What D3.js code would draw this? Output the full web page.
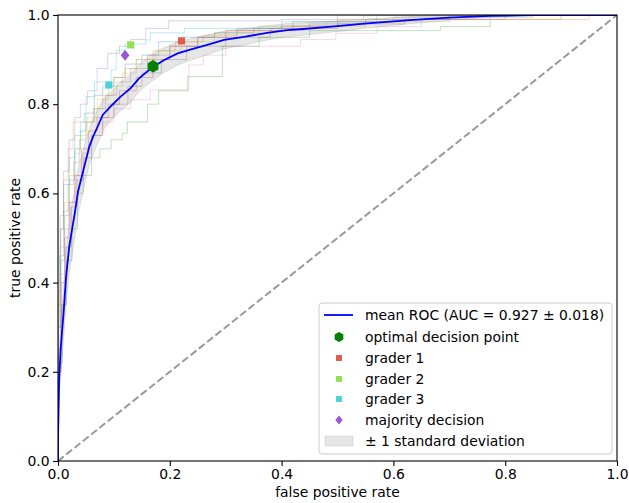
<!DOCTYPE html>
<html lang="en">
<head>
    <meta charset="utf-8">
    <title>ROC</title>
    <style>
        body { margin: 0; background: #fff; }
        text { font-family: "DejaVu Sans", sans-serif; font-size: 13.9px; fill: #000; }
    </style>
</head>
<body>
<svg id="chart"></svg>
<script src="https://d3js.org/d3.v7.min.js"></script>
<script>
    const chartWidth = 629;
    const chartHeight = 503;
    const margin = {top: 15, right: 12, bottom: 42, left: 58};
    const width = chartWidth - margin.left - margin.right;
    const height = chartHeight - margin.top - margin.bottom;

    // mean ROC
    const meanFpr = [0, 0, 0.002, 0.005, 0.010, 0.014, 0.020, 0.025, 0.030, 0.036, 0.041, 0.047, 0.056, 0.063, 0.071, 0.080, 0.095, 0.112, 0.130, 0.145, 0.166, 0.190, 0.214, 0.238, 0.267, 0.297, 0.333, 0.374, 0.410, 0.434, 0.50, 0.553, 0.636, 0.70, 0.773, 0.85, 1.0];
    const meanTpr = [0, 0.05, 0.18, 0.256, 0.332, 0.406, 0.48, 0.518, 0.556, 0.605, 0.63, 0.66, 0.705, 0.728, 0.75, 0.776, 0.796, 0.817, 0.836, 0.858, 0.880, 0.899, 0.914, 0.923, 0.933, 0.944, 0.951, 0.960, 0.966, 0.968, 0.975, 0.981, 0.989, 0.994, 0.998, 1.0, 1.0];
    const stdTpr = [0, 0.02, 0.05, 0.06, 0.06, 0.06, 0.06, 0.06, 0.055, 0.05, 0.05, 0.045, 0.04, 0.04, 0.038, 0.035, 0.032, 0.032, 0.032, 0.03, 0.03, 0.028, 0.026, 0.024, 0.022, 0.02, 0.018, 0.016, 0.015, 0.014, 0.012, 0.01, 0.008, 0.006, 0.003, 0, 0];

    // per-fold ROC curves (step corners)
    const foldColors = ["#1f77b4", "#ff7f0e", "#2ca02c", "#d62728", "#9467bd", "#8c564b", "#e377c2", "#7f7f7f", "#bcbd22", "#17becf"];
    const foldFpr = [
        [0, 0.005, 0.012, 0.02, 0.03, 0.04, 0.05, 0.065, 0.08, 0.10, 0.12, 0.15, 0.18, 0.22, 0.28, 0.35, 0.45, 0.55, 0.7, 1.0],
        [0, 0.004, 0.01, 0.018, 0.027, 0.063, 0.08, 0.10, 0.12, 0.14, 0.17, 0.21, 0.26, 0.32, 0.42, 0.55, 0.95, 1.0],
        [0, 0.008, 0.015, 0.025, 0.035, 0.045, 0.06, 0.075, 0.095, 0.115, 0.124, 0.16, 0.18, 0.232, 0.294, 0.36, 0.45, 0.684, 0.773, 1.0],
        [0, 0.006, 0.012, 0.02, 0.03, 0.042, 0.055, 0.07, 0.09, 0.11, 0.14, 0.17, 0.2, 0.25, 0.3, 0.4, 0.5, 0.547, 1.0],
        [0, 0.004, 0.01, 0.02, 0.03, 0.04, 0.053, 0.07, 0.089, 0.11, 0.13, 0.157, 0.198, 0.40, 0.50, 1.0],
        [0, 0.006, 0.014, 0.024, 0.034, 0.046, 0.06, 0.08, 0.1, 0.125, 0.15, 0.185, 0.23, 0.3, 0.38, 0.5, 0.62, 0.8, 1.0],
        [0, 0.005, 0.012, 0.022, 0.032, 0.045, 0.06, 0.08, 0.1, 0.13, 0.165, 0.234, 0.26, 0.30, 0.434, 0.497, 0.571, 0.65, 0.9, 1.0],
        [0, 0.003, 0.01, 0.018, 0.028, 0.038, 0.05, 0.065, 0.085, 0.105, 0.13, 0.16, 0.2, 0.25, 0.32, 0.42, 0.6, 0.85, 1.0],
        [0, 0.004, 0.011, 0.02, 0.03, 0.04, 0.052, 0.07, 0.09, 0.115, 0.14, 0.175, 0.22, 0.28, 0.36, 0.48, 0.7, 0.9, 1.0],
        [0, 0.005, 0.01, 0.02, 0.03, 0.04, 0.047, 0.05, 0.065, 0.095, 0.104, 0.12, 0.157, 0.165, 0.226, 0.4, 0.57, 1.0]
    ];
    const foldTpr = [
        [0, 0.30, 0.45, 0.55, 0.63, 0.70, 0.74, 0.78, 0.82, 0.84, 0.86, 0.89, 0.91, 0.94, 0.95, 0.96, 0.97, 0.98, 0.99, 1.0],
        [0, 0.35, 0.52, 0.63, 0.70, 0.76, 0.79, 0.82, 0.86, 0.88, 0.90, 0.92, 0.94, 0.955, 0.965, 0.975, 0.99, 1.0],
        [0, 0.22, 0.35, 0.45, 0.52, 0.60, 0.64, 0.68, 0.70, 0.72, 0.735, 0.76, 0.80, 0.83, 0.862, 0.93, 0.95, 0.965, 0.974, 1.0],
        [0, 0.25, 0.40, 0.50, 0.58, 0.64, 0.70, 0.74, 0.77, 0.80, 0.83, 0.86, 0.90, 0.93, 0.95, 0.965, 0.975, 0.99, 1.0],
        [0, 0.40, 0.55, 0.65, 0.72, 0.77, 0.80, 0.83, 0.88, 0.914, 0.93, 0.945, 0.97, 0.987, 0.99, 1.0],
        [0, 0.20, 0.35, 0.48, 0.57, 0.63, 0.68, 0.73, 0.77, 0.80, 0.84, 0.87, 0.90, 0.93, 0.95, 0.97, 0.98, 0.99, 1.0],
        [0, 0.28, 0.42, 0.52, 0.58, 0.64, 0.69, 0.73, 0.76, 0.79, 0.81, 0.832, 0.888, 0.91, 0.93, 0.945, 0.959, 0.974, 0.99, 1.0],
        [0, 0.30, 0.46, 0.56, 0.62, 0.67, 0.72, 0.76, 0.79, 0.82, 0.85, 0.88, 0.91, 0.93, 0.95, 0.97, 0.985, 0.995, 1.0],
        [0, 0.33, 0.48, 0.58, 0.64, 0.69, 0.73, 0.77, 0.81, 0.84, 0.87, 0.90, 0.92, 0.94, 0.96, 0.975, 0.985, 0.99, 1.0],
        [0, 0.38, 0.52, 0.62, 0.68, 0.73, 0.76, 0.78, 0.817, 0.85, 0.877, 0.921, 0.935, 0.944, 0.96, 0.97, 0.985, 1.0]
    ];

    // single points
    const pointNames = ["optimal decision point", "grader 1", "grader 2", "grader 3", "majority decision"];
    const pointFpr = [0.17, 0.221, 0.130, 0.091, 0.120];
    const pointTpr = [0.885, 0.942, 0.933, 0.843, 0.910];
    const pointColors = ["#007f00", "#e05a4e", "#93e058", "#4bd2d8", "#9b56d8"];
    const pointShapes = ["hex", "square", "square", "square", "diamond"];

    const ticks = [0, 0.2, 0.4, 0.6, 0.8, 1.0];
    const legendLabels = ["mean ROC (AUC = 0.927 \u00b1 0.018)", "optimal decision point", "grader 1", "grader 2", "grader 3", "majority decision", "\u00b1 1 standard deviation"];

    var svg = d3.select("#chart").attr("width", chartWidth).attr("height", chartHeight);
    var g = svg.append("g").attr("transform", "translate(" + margin.left + "," + margin.top + ")");
    var x = d3.scaleLinear().domain([0, 1]).range([0, width]);
    var y = d3.scaleLinear().domain([0, 1]).range([height, 0]);

    var clip = svg.append("defs").append("clipPath").attr("id", "clip")
        .append("rect").attr("width", width).attr("height", height);
    var plot = g.append("g").attr("clip-path", "url(#clip)");

    // folds
    foldFpr.forEach(function(fx, k) {
        var pts = fx.map(function(v, i) { return [x(v), y(foldTpr[k][i])]; });
        plot.append("path")
            .attr("d", d3.line().curve(d3.curveStepBefore)(pts))
            .attr("fill", "none")
            .attr("stroke", foldColors[k])
            .attr("stroke-opacity", 0.3)
            .attr("stroke-width", 1);
    });

    // diagonal
    plot.append("path")
        .attr("d", d3.line()([[x(0), y(0)], [x(1), y(1)]]))
        .attr("stroke", "#808080")
        .attr("stroke-opacity", 0.8)
        .attr("stroke-width", 2)
        .attr("stroke-dasharray", "7.4,3.2");

    // std band
    var area = d3.area()
        .x(function(d, i) { return x(meanFpr[i]); })
        .y0(function(d, i) { return y(Math.max(meanTpr[i] - stdTpr[i], 0)); })
        .y1(function(d, i) { return y(Math.min(meanTpr[i] + stdTpr[i], 1)); });
    plot.append("path")
        .attr("d", area(meanFpr))
        .attr("fill", "grey")
        .attr("fill-opacity", 0.2)
        .attr("stroke", "grey")
        .attr("stroke-opacity", 0.2);

    // mean line
    plot.append("path")
        .attr("d", d3.line().x(function(d, i) { return x(meanFpr[i]); }).y(function(d, i) { return y(meanTpr[i]); })(meanFpr))
        .attr("fill", "none")
        .attr("stroke", "#0000ff")
        .attr("stroke-width", 1.8);

    function marker(sel, shape, cx, cy, s) {
        if (shape === "hex") {
            var p = d3.range(6).map(function(i) {
                var a = Math.PI / 6 + i * Math.PI / 3;
                return [cx + s * Math.cos(a), cy + s * Math.sin(a)];
            });
            sel.append("path").attr("d", "M" + p.join("L") + "Z");
        } else if (shape === "square") {
            sel.append("rect").attr("x", cx - s * 0.55).attr("y", cy - s * 0.55).attr("width", s * 1.1).attr("height", s * 1.1);
        } else {
            sel.append("path").attr("d", "M" + cx + "," + (cy - s) + "L" + (cx + s * 0.8) + "," + cy + "L" + cx + "," + (cy + s) + "L" + (cx - s * 0.8) + "," + cy + "Z");
        }
    }

    pointFpr.forEach(function(v, i) {
        var s = pointShapes[i] === "hex" ? 6.2 : (pointShapes[i] === "square" ? 6.5 : 5.5);
        var mg = g.append("g").attr("fill", pointColors[i]);
        marker(mg, pointShapes[i], x(v), y(pointTpr[i]), s);
    });

    // axes
    var xAxis = g.append("g")
        .attr("transform", "translate(0," + height + ")")
        .call(d3.axisBottom(x).tickValues(ticks).tickFormat(d3.format(".1f")).tickSize(4.9).tickPadding(3.5));
    var yAxis = g.append("g")
        .call(d3.axisLeft(y).tickValues(ticks).tickFormat(d3.format(".1f")).tickSize(4.9).tickPadding(3.5));
    [xAxis, yAxis].forEach(function(a) {
        a.select(".domain").remove();
        a.selectAll("text").attr("font-size", null).style("font-family", "DejaVu Sans").style("font-size", "13.9px").attr("fill", "#000");
        a.selectAll("line").attr("stroke", "#000").attr("stroke-width", 1.1);
        a.attr("font-family", null).attr("font-size", null);
    });
    g.append("rect").attr("width", width).attr("height", height)
        .attr("fill", "none").attr("stroke", "#000").attr("stroke-width", 1.1);

    g.append("text").attr("x", width / 2).attr("y", height + 36).attr("text-anchor", "middle").text("false positive rate");
    g.append("text").attr("transform", "translate(" + (-38) + "," + (height / 2) + ") rotate(-90)").attr("text-anchor", "middle").text("true positive rate");

    // legend
    var lg = svg.append("g").attr("transform", "translate(319,303)");
    lg.append("rect").attr("width", 293).attr("height", 151).attr("rx", 3)
        .attr("fill", "#fff").attr("fill-opacity", 0.8).attr("stroke", "#cccccc");
    var rowY = [12, 34, 55, 76, 96, 117, 138];
    legendLabels.forEach(function(t, i) {
        lg.append("text").attr("x", 46).attr("y", rowY[i]).attr("dy", "0.35em").text(t);
    });
    lg.append("line").attr("x1", 5).attr("x2", 34).attr("y1", rowY[0]).attr("y2", rowY[0])
        .attr("stroke", "#0000ff").attr("stroke-width", 1.8);
    pointShapes.forEach(function(sh, i) {
        var s = sh === "hex" ? 5 : (sh === "square" ? 5.4 : 4.6);
        var mg = lg.append("g").attr("fill", pointColors[i]);
        marker(mg, sh, 20, rowY[i + 1], s);
    });
    lg.append("rect").attr("x", 6).attr("y", rowY[6] - 5).attr("width", 28).attr("height", 10)
        .attr("fill", "grey").attr("fill-opacity", 0.2).attr("stroke", "grey").attr("stroke-opacity", 0.2);
</script>
</body>
</html>
